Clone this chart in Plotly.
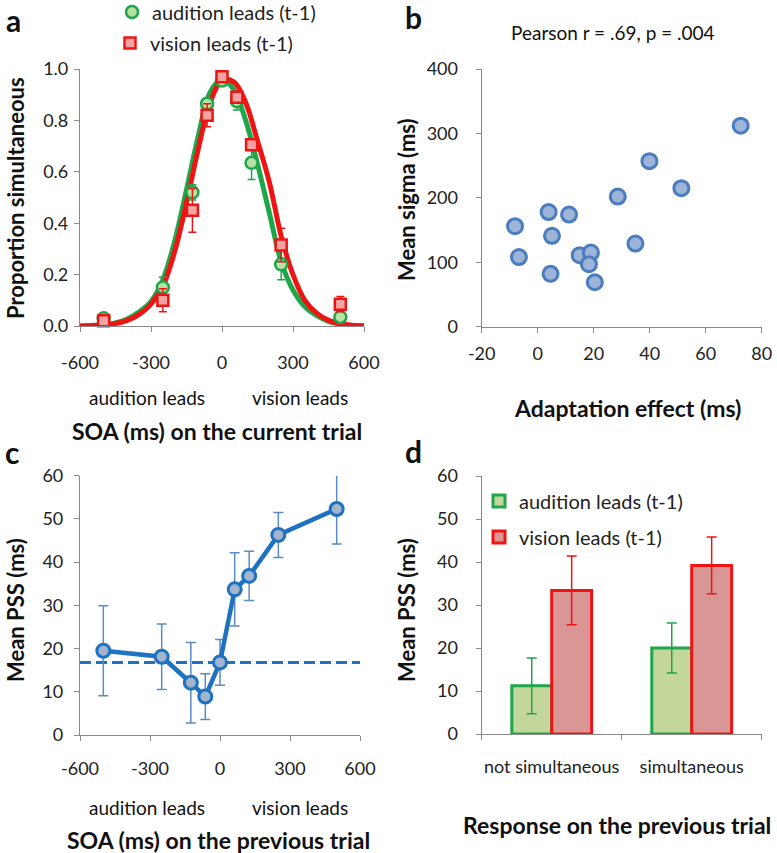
import plotly.graph_objects as go

# ---------------- data ----------------
# Panel a: proportion simultaneous vs current SOA
soa_cur = [-500, -250, -125, -63, 0, 63, 125, 250, 500]
aud_prop = [0.03, 0.15, 0.52, 0.865, 0.955, 0.875, 0.635, 0.24, 0.035]
aud_err = [0.01, 0.04, 0.03, 0.02, 0.02, 0.035, 0.065, 0.06, 0.01]
vis_prop = [0.02, 0.10, 0.45, 0.82, 0.97, 0.89, 0.705, 0.315, 0.085]
vis_err = [0.01, 0.045, 0.085, 0.045, 0.01, 0.02, 0.02, 0.065, 0.03]
# fitted curves
fit_x = [-600, -550, -500, -450, -400, -350, -300, -250, -200, -150, -100, -50, 0,
         50, 100, 150, 200, 250, 300, 350, 400, 450, 500, 550, 600]
aud_fit = [0.0, 0.002, 0.005, 0.012, 0.027, 0.055, 0.095, 0.18, 0.33, 0.53, 0.74, 0.91, 0.96,
           0.92, 0.80, 0.63, 0.44, 0.25, 0.14, 0.075, 0.04, 0.018, 0.007, 0.002, 0.0]
vis_fit = [0.0, 0.001, 0.004, 0.01, 0.022, 0.045, 0.085, 0.155, 0.29, 0.48, 0.69, 0.87, 0.955,
           0.95, 0.87, 0.72, 0.56, 0.35, 0.20, 0.10, 0.05, 0.022, 0.009, 0.003, 0.001]
soa_ticks = [-600, -300, 0, 300, 600]
soa_ticktext = ["-600", "-300", "0", "300", "600"]

# Panel b: scatter
adapt = [-8.1, -6.7, 3.9, 5.1, 4.6, 11.2, 15.0, 19.0, 18.3, 20.4, 28.6, 34.9, 39.9, 51.3, 72.5]
sigma = [156, 108, 178, 141, 82, 174, 111, 115, 97, 69, 202, 129, 257, 215, 312]
adapt_ticks = [-20, 0, 20, 40, 60, 80]
adapt_ticktext = ["-20", "0", "20", "40", "60", "80"]

# Panel c: PSS vs previous SOA
soa_prev = [-500, -250, -125, -63, 0, 63, 125, 250, 500]
pss = [19.5, 18.1, 12.1, 8.9, 16.8, 33.7, 36.8, 46.3, 52.3]
pss_err = [10.4, 7.6, 9.3, 5.3, 5.3, 8.5, 5.7, 5.2, 8.1]
pss_mean = 16.8

# Panel d: bars
resp_cats = ["not simultaneous", "simultaneous"]
bar_aud = [11.2, 20.0]
bar_aud_err = [6.5, 5.8]
bar_vis = [33.4, 39.2]
bar_vis_err = [8.0, 6.6]

# ---------------- styling ----------------
W, H = 777, 853
FONT = "Lato"
GREEN = "#1ea64a"
GREEN_FILL = "#b9e0a5"
RED = "#ee1414"
RED_FILL = "#f2a3a3"
BLUE = "#1f72c2"
AXC = "#8a8a8a"


def px_x(p):
    return p / W


def px_y(p):
    return 1 - p / H


fig = go.Figure()

# ---- panel a ----
fig.add_trace(go.Scatter(x=fit_x, y=aud_fit, mode="lines", line=dict(color=GREEN, width=5, shape="spline"),
                         showlegend=False, xaxis="x", yaxis="y", hoverinfo="skip"))
fig.add_trace(go.Scatter(x=fit_x, y=vis_fit, mode="lines", line=dict(color=RED, width=5, shape="spline"),
                         showlegend=False, xaxis="x", yaxis="y", hoverinfo="skip"))
fig.add_trace(go.Scatter(x=soa_cur, y=aud_prop, mode="markers", name="audition leads (t-1)",
                         marker=dict(symbol="circle", size=12, color=GREEN_FILL, line=dict(color=GREEN, width=2.5)),
                         error_y=dict(type="data", array=aud_err, color=GREEN, thickness=1.5, width=4),
                         cliponaxis=False, xaxis="x", yaxis="y", legend="legend"))
fig.add_trace(go.Scatter(x=soa_cur, y=vis_prop, mode="markers", name="vision leads (t-1)",
                         marker=dict(symbol="square", size=11, color=RED_FILL, line=dict(color=RED, width=2.5)),
                         error_y=dict(type="data", array=vis_err, color=RED, thickness=1.5, width=4),
                         cliponaxis=False, xaxis="x", yaxis="y", legend="legend2"))

# ---- panel b ----
fig.add_trace(go.Scatter(x=adapt, y=sigma, mode="markers", showlegend=False,
                         marker=dict(size=15, color="#9db3d7", line=dict(color="#4a7cc0", width=3)),
                         cliponaxis=False, xaxis="x2", yaxis="y2"))

# ---- panel c ----
fig.add_trace(go.Scatter(x=[-600, 600], y=[pss_mean, pss_mean], mode="lines", showlegend=False,
                         line=dict(color=BLUE, width=3, dash="11px,5px"), xaxis="x3", yaxis="y3",
                         hoverinfo="skip"))
fig.add_trace(go.Scatter(x=soa_prev, y=pss, mode="lines+markers", showlegend=False,
                         line=dict(color=BLUE, width=4.5),
                         marker=dict(size=13, color="#a3b4cf", line=dict(color=BLUE, width=3)),
                         error_y=dict(type="data", array=pss_err, color="#5a8cc6", thickness=1.5, width=5),
                         cliponaxis=False, xaxis="x3", yaxis="y3"))

# ---- panel d ----
fig.add_trace(go.Bar(x=resp_cats, y=bar_aud, name="audition leads (t-1)",
                     marker=dict(color="#c3d69b", line=dict(color=GREEN, width=3)),
                     error_y=dict(type="data", array=bar_aud_err, color=GREEN, thickness=1.5, width=5),
                     xaxis="x4", yaxis="y4", legend="legend3"))
fig.add_trace(go.Bar(x=resp_cats, y=bar_vis, name="vision leads (t-1)",
                     marker=dict(color="#d99694", line=dict(color=RED, width=3)),
                     error_y=dict(type="data", array=bar_vis_err, color=RED, thickness=1.5, width=5),
                     xaxis="x4", yaxis="y4", legend="legend4"))

tickfont = dict(family=FONT, size=18, color="#222222")
common = dict(showline=True, linecolor=AXC, linewidth=1.2, ticks="outside", tickcolor=AXC, ticklen=5,
              showgrid=False, zeroline=False, tickfont=tickfont, fixedrange=True, tickangle=0)

fig.update_layout(
    width=W, height=H, margin=dict(l=0, r=0, t=0, b=0, autoexpand=False),
    paper_bgcolor="white", plot_bgcolor="white",
    font=dict(family=FONT, size=17, color="#222222"),
    barmode="group", bargap=0.43, bargroupgap=0,
    xaxis=dict(domain=[px_x(80), px_x(364)], range=[-600, 600], tickvals=soa_ticks, ticktext=soa_ticktext,
               anchor="y", ticklabelstandoff=15, **common),
    yaxis=dict(domain=[px_y(326), px_y(69)], range=[0, 1], tickvals=[0, 0.2, 0.4, 0.6, 0.8, 1.0],
               tickformat=".1f", anchor="x", ticklabelstandoff=2, **common),
    xaxis2=dict(domain=[px_x(481.7), px_x(761.7)], range=[-20, 80], tickvals=adapt_ticks,
                ticktext=adapt_ticktext, anchor="y2", ticklabelstandoff=6, **common),
    yaxis2=dict(domain=[px_y(326.7), px_y(69)], range=[0, 400], dtick=100, anchor="x2",
                ticklabelstandoff=14, **common),
    xaxis3=dict(domain=[px_x(80), px_x(360)], range=[-600, 600], tickvals=soa_ticks, ticktext=soa_ticktext,
                anchor="y3", ticklabelstandoff=12, **common),
    yaxis3=dict(domain=[px_y(735), px_y(475.7)], range=[0, 60], dtick=10, anchor="x3",
                ticklabelstandoff=7, **common),
    xaxis4=dict(domain=[px_x(481.7), px_x(761.7)], type="category", tickson="boundaries", anchor="y4",
                ticklabelstandoff=16, **common),
    yaxis4=dict(domain=[px_y(734), px_y(476)], range=[0, 60], dtick=10, anchor="x4",
                ticklabelstandoff=14, **common),
)

legfont = dict(family=FONT, size=20, color="#222222")
leg = dict(bgcolor="rgba(0,0,0,0)", borderwidth=0, font=legfont, xanchor="left", yanchor="middle",
           itemwidth=30, tracegroupgap=0)
fig.update_layout(
    legend=dict(x=px_x(112), y=px_y(12), **leg),
    legend2=dict(x=px_x(110), y=px_y(43), **leg),
    legend3=dict(x=px_x(479), y=px_y(501), **leg),
    legend4=dict(x=px_x(479), y=px_y(537), **leg),
)

anns = []


def text(x, y, s, size=19, bold=False, angle=0):
    anns.append(dict(x=px_x(x), y=px_y(y), xref="paper", yref="paper", text=("<b>%s</b>" % s) if bold else s,
                     showarrow=False, textangle=angle, xanchor="center", yanchor="middle",
                     font=dict(family=FONT, size=size, color="#111111")))


# panel letters
text(13, 20, "a", 30, True)
text(413, 17, "b", 30, True)
text(12, 452, "c", 30, True)
text(413, 451, "d", 30, True)
# panel a
text(15, 198, "Proportion simultaneous", 22, True, -90)
text(147, 397, "audition leads")
text(300, 397, "vision leads")
text(217, 431, "SOA (ms) on the current trial", 23, True)
# panel b
text(613, 33, "Pearson r = .69, p = .004", 19)
text(406, 200, "Mean sigma (ms)", 22, True, -90)
text(627, 408, "Adaptation effect (ms)", 23, True)
# panel c
text(15, 610, "Mean PSS (ms)", 22, True, -90)
text(147, 807, "audition leads")
text(300, 807, "vision leads")
text(218, 840, "SOA (ms) on the previous trial", 23, True)
# panel d
text(406, 610, "Mean PSS (ms)", 22, True, -90)
text(617, 825, "Response on the previous trial", 23, True)

fig.update_layout(annotations=anns)

# remove the browser's default page margin so the figure sits at the window's corner
fig.write_html("out.html", config={"displayModeBar": False},
               post_script="document.body.style.margin='0px';")
